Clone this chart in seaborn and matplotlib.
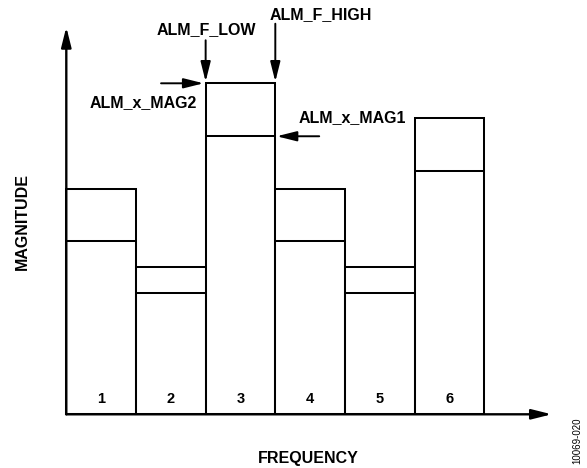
import matplotlib
matplotlib.use("Agg")
import matplotlib.pyplot as plt
import seaborn as sns

# frequency bins and the two alarm magnitudes in each bin
bins = ["1", "2", "3", "4", "5", "6"]
mag2 = [68, 44.5, 100, 68, 44.5, 89.5]   # outer level (ALM_x_MAG2)
mag1 = [52.5, 36.5, 84, 52.5, 36.5, 73.5]  # inner level (ALM_x_MAG1)

W, H = 587, 468
PX_X = 69.67   # pixels per bin
PX_Y = 3.31    # pixels per magnitude unit
X0, Y0 = 66.3, 414.3  # pixel position of (-0.5, 0)

XLIM = (-0.6, 6.6)
YLIM = (-2, 118)


def main():
    sns.set_theme(style="white")
    plt.rcParams["font.family"] = ["Liberation Sans", "DejaVu Sans"]
    plt.rcParams["text.color"] = "black"

    fig = plt.figure(figsize=(W / 100, H / 100), dpi=100)
    left = X0 + (XLIM[0] + 0.5) * PX_X
    bottom = Y0 - YLIM[0] * PX_Y
    ax = fig.add_axes([left / W, (H - bottom) / H,
                       (XLIM[1] - XLIM[0]) * PX_X / W,
                       (YLIM[1] - YLIM[0]) * PX_Y / H])

    sns.barplot(x=bins, y=mag2, color="white", saturation=1, edgecolor="black",
                linewidth=1.45, width=1, errorbar=None, ax=ax)
    sns.barplot(x=bins, y=mag1, color="black", fill=False,
                linewidth=1.45, width=1, errorbar=None, ax=ax)

    ax.set_xlim(*XLIM)
    ax.set_ylim(*YLIM)
    ax.axis("off")

    for i, b in enumerate(bins):
        ax.text(i, 4.6, b, ha="center", va="center", fontsize=10.5,
                fontweight="bold", color="black")

    # axes with arrowheads
    head = "-|>,head_length=0.8,head_width=0.2"
    axis_props = dict(arrowstyle=head, mutation_scale=15, color="black", lw=1.7,
                      shrinkA=0, shrinkB=0)
    ax.annotate("", xy=(-0.5, 117), xytext=(-0.5, 0), arrowprops=axis_props,
                annotation_clip=False)
    ax.annotate("", xy=(6.467, 0), xytext=(-0.5, 0), arrowprops=axis_props,
                annotation_clip=False)

    # alarm pointers on bin 3
    ptr = dict(arrowstyle=head, mutation_scale=15, color="black", lw=1.4,
               shrinkA=0, shrinkB=0)
    ax.annotate("", xy=(1.5, 100.5), xytext=(1.5, 113), arrowprops=ptr,
                annotation_clip=False)
    ax.annotate("", xy=(2.5, 100.5), xytext=(2.5, 118), arrowprops=ptr,
                annotation_clip=False)
    ax.annotate("", xy=(1.47, mag2[2]), xytext=(0.86, mag2[2]), arrowprops=ptr,
                annotation_clip=False)
    ax.annotate("", xy=(2.52, mag1[2]), xytext=(3.13, mag1[2]), arrowprops=ptr,
                annotation_clip=False)

    def label(x, y, s, **kw):
        fig.text(x / W, 1 - y / H, s, ha="center", va="center", color="black", **kw)

    label(206, 30, "ALM_F_LOW", fontsize=11.5, fontweight="bold")
    label(321, 15, "ALM_F_HIGH", fontsize=11.5, fontweight="bold")
    label(143, 103, "ALM_x_MAG2", fontsize=11.5, fontweight="bold")
    label(352, 118, "ALM_x_MAG1", fontsize=11.5, fontweight="bold")
    label(308, 458, "FREQUENCY", fontsize=11.5, fontweight="bold")
    label(22, 222, "MAGNITUDE", fontsize=11.5, fontweight="bold", rotation=90)
    label(577, 441, "10069-020", fontsize=7, rotation=90)

    fig.savefig("out.png", dpi=100)
    plt.close(fig)


if __name__ == "__main__":
    main()
